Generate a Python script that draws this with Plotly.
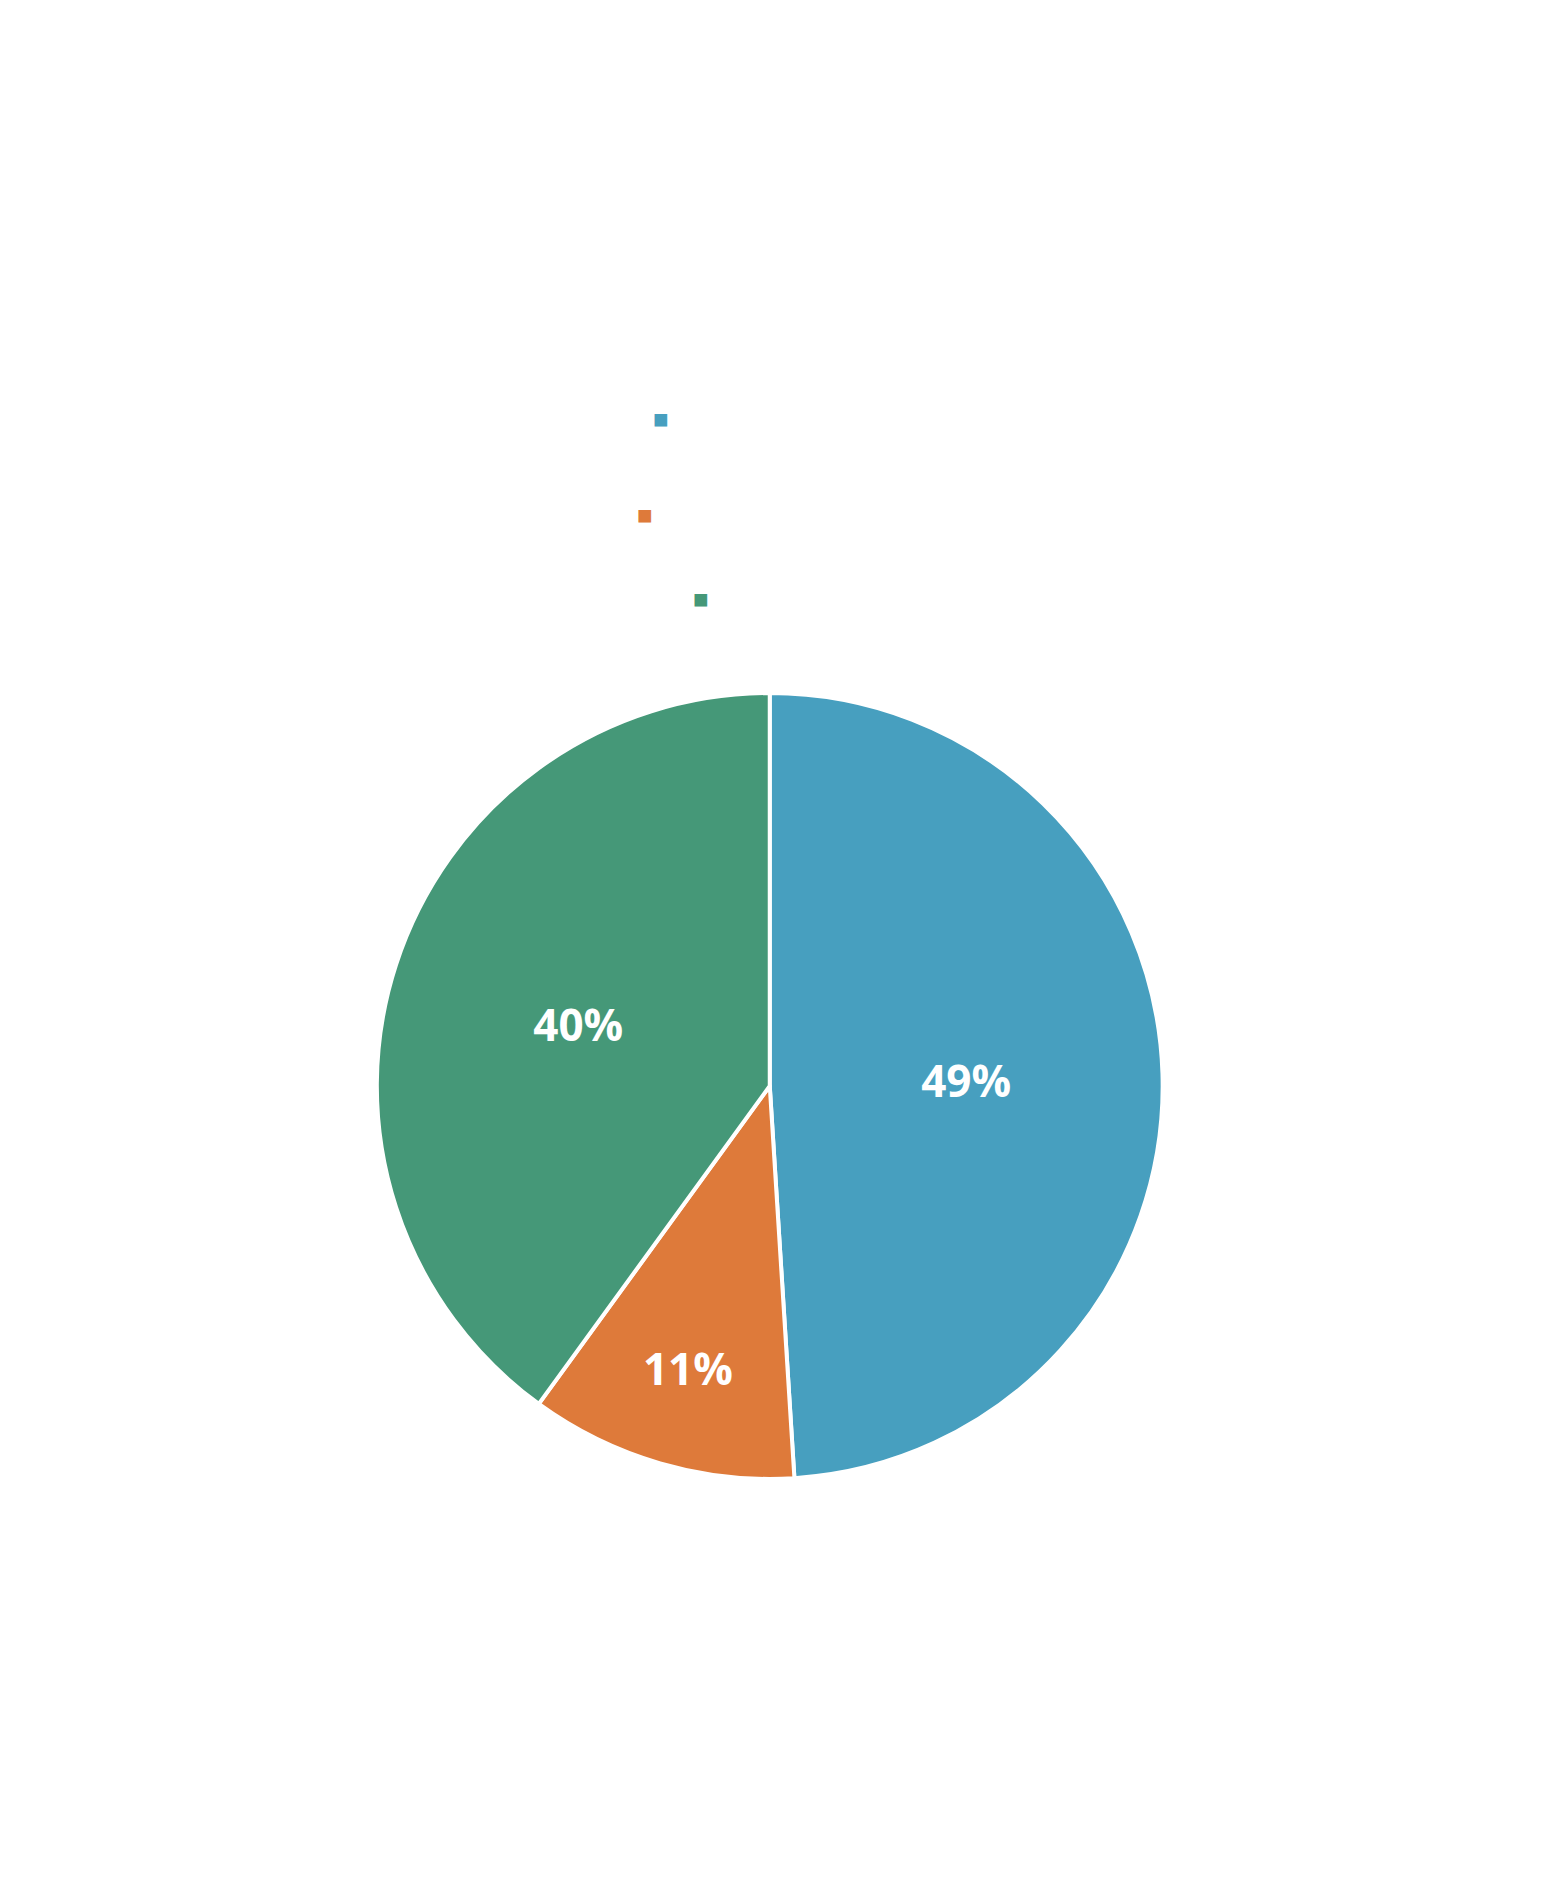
import plotly.graph_objects as go

# data
LABELS = ["Business members", "Civil society members", "Associations"]
VALUES = [49, 11, 40]
COLORS = ["#479fbf", "#de7a3a", "#459878"]

W, H = 1542, 1880
LEGEND_Y = [0.782, 0.731, 0.686]

fig = go.Figure(
    go.Pie(
        labels=LABELS,
        values=VALUES,
        sort=False,
        direction="clockwise",
        rotation=0,
        marker=dict(colors=COLORS, line=dict(color="white", width=4)),
        textinfo="percent",
        texttemplate="%{percent:.0%}",
        textposition="inside",
        insidetextorientation="horizontal",
        textfont=dict(family="Open Sans", size=44, color="white", weight="bold"),
        domain=dict(x=[0.239, 0.749], y=[0.2176, 0.6356]),
        showlegend=False,
    )
)

# legend drawn as centred lines (text is white, as in the source)
for name, col, y in zip(LABELS, COLORS, LEGEND_Y):
    fig.add_annotation(
        x=0.5, y=y, xref="paper", yref="paper",
        text=f"<span style='color:{col}'>■</span> {name}",
        showarrow=False, xanchor="center", yanchor="middle",
        font=dict(family="Open Sans", size=26, color="white"),
    )

fig.update_layout(
    width=W, height=H,
    margin=dict(l=0, r=0, t=0, b=0),
    paper_bgcolor="white",
    plot_bgcolor="white",
)

fig.write_html("out.html")
